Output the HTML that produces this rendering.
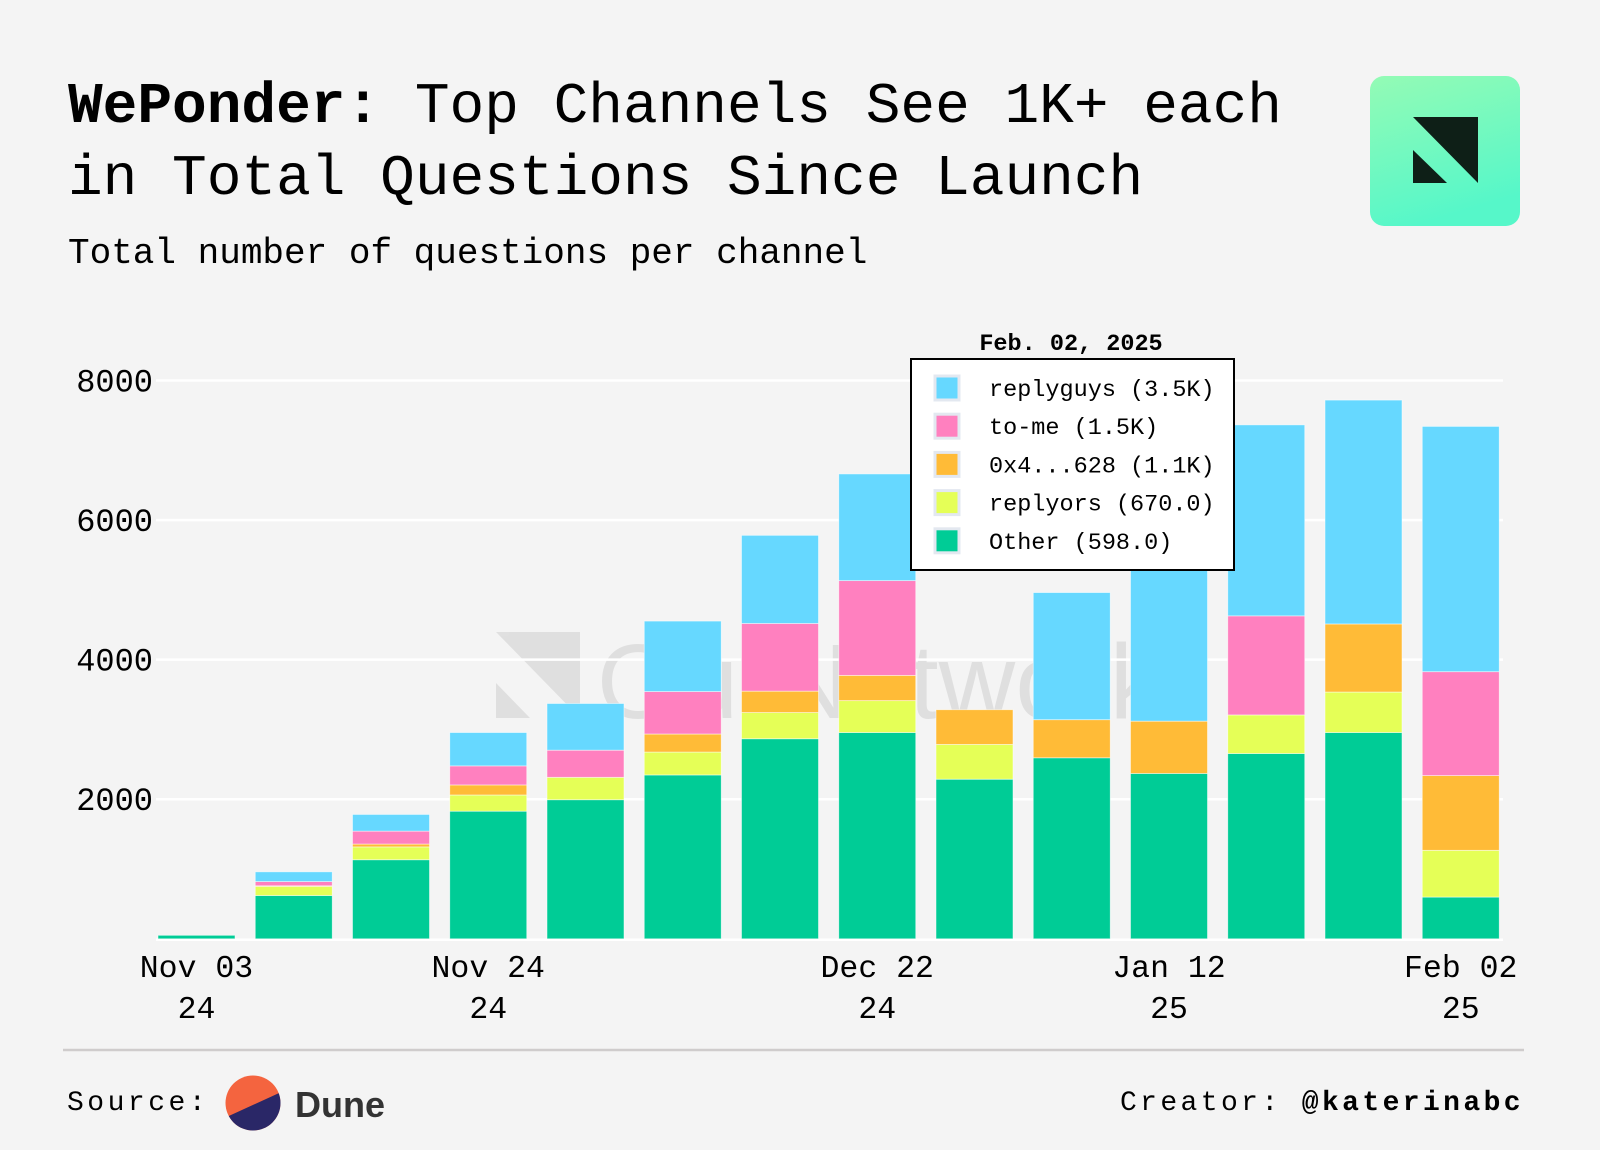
<!DOCTYPE html>
<html><head><meta charset="utf-8"><style>
html,body{margin:0;padding:0;background:#f4f4f4;}
svg{display:block;}
text{font-family:"Liberation Mono","DejaVu Sans Mono",monospace;}
</style></head><body>
<svg id="chart" width="1600" height="1150" viewBox="0 0 1600 1150" xmlns="http://www.w3.org/2000/svg">
<defs><linearGradient id="lg" x1="0" y1="0" x2="0.3" y2="1"><stop offset="0" stop-color="#94fbb5"/><stop offset="1" stop-color="#56f7c9"/></linearGradient></defs>
<rect width="1600" height="1150" fill="#f4f4f4"/>
<text x="68" y="122" font-size="57.8" fill="#000"><tspan font-weight="bold">WePonder:</tspan> Top Channels See 1K+ each</text>
<text x="68" y="194" font-size="57.8" fill="#000">in Total Questions Since Launch</text>
<text x="68" y="263" font-size="36" fill="#000">Total number of questions per channel</text>
<g>
<rect x="1370" y="76" width="150" height="150" rx="14" fill="url(#lg)"/>
<polygon points="1413,117 1478,117 1478,183" fill="#0e1f17"/>
<polygon points="1413,150 1413,183 1447,183" fill="#0e1f17"/>
</g>
<g opacity="0.08">
<polygon points="496,632 580,632 580,718" fill="#000"/>
<polygon points="496,683 496,718 530,718" fill="#000"/>
<text x="597" y="718" font-size="106" fill="#000" style="font-family:'Liberation Sans',sans-serif">OurNetwork</text>
</g>
<g id="grid"></g>
<g id="bars"></g>
<g id="axes"></g>
<g>
<text x="1071" y="350" font-size="23.5" font-weight="bold" text-anchor="middle" fill="#000">Feb. 02, 2025</text>
<rect x="911" y="359" width="323" height="211" fill="#fff" stroke="#000" stroke-width="2"/>
<g id="legend-items"></g>
</g>
<line x1="63" y1="1050" x2="1524" y2="1050" stroke="#cfcccc" stroke-width="2.5"/>
<text x="67" y="1110" font-size="28" letter-spacing="3.5" fill="#000">Source:</text>
<g>
<clipPath id="dc"><circle cx="253" cy="1103" r="27.5"/></clipPath>
<circle cx="253" cy="1103" r="27.5" fill="#f4643f"/>
<polygon points="220,1120 290,1088 290,1140 220,1140" fill="#2a2767" clip-path="url(#dc)"/>
</g>
<text x="295" y="1117" font-size="36" font-weight="bold" fill="#333" style="font-family:'Liberation Sans',sans-serif">Dune</text>
<text x="1524" y="1110" font-size="28" letter-spacing="3.4" text-anchor="end" fill="#000">Creator: <tspan font-weight="bold">@katerinabc</tspan></text>
</svg>
<script>
const categories=["Nov 03","Nov 10","Nov 17","Nov 24","Dec 01","Dec 08","Dec 15","Dec 22","Dec 29","Jan 05","Jan 12","Jan 19","Jan 26","Feb 02"];
const seriesNames=["Other","replyors","0x4...628","to-me","replyguys"];
const otherVals=[50,620,1133,1829,1993,2348,2867,2956,2287,2594,2369,2655,2956,598];
const replyorsVals=[0,130,184,232,321,328,375,457,498,0,0,553,580,670];
const oxVals=[0,10,41,144,0,259,307,362,498,546,750,0,976,1071];
const toMeVals=[0,60,185,273,389,608,970,1358,0,0,0,1420,0,1489];
const replyguysVals=[0,140,239,478,669,1010,1263,1529,0,1822,3781,2737,3208,3515];
const legendLabels=["replyguys (3.5K)","to-me (1.5K)","0x4...628 (1.1K)","replyors (670.0)","Other (598.0)"];
const yTicks=[2000,4000,6000,8000];
const xTickIdx=[0,3,7,10,13];
const xTickLine1=["Nov 03","Nov 24","Dec 22","Jan 12","Feb 02"];
const xTickLine2=["24","24","24","25","25"];

const colors=["#00cc96","#e5ff57","#ffbb37","#ff80bf","#66d8ff"];
const NS="http://www.w3.org/2000/svg";
const X0=158,STEP=97.25,BW=77,BASE=938.8,PX=0.06978;
const y=v=>BASE-v*PX;
const xb=i=>X0+i*STEP;
function mk(tag,attrs,parent){const e=document.createElementNS(NS,tag);for(const k in attrs)e.setAttribute(k,attrs[k]);parent.appendChild(e);return e;}
const grid=document.getElementById('grid'),bars=document.getElementById('bars'),axes=document.getElementById('axes'),li=document.getElementById('legend-items');
yTicks.forEach(t=>{
 const l=mk('line',{x1:156,x2:1503,y1:y(t),y2:y(t),stroke:'#ffffff','stroke-width':2.5},grid);
 
 
 const tx=mk('text',{x:153,y:y(t)+11,'font-size':32,'text-anchor':'end',fill:'#000'},axes);
 tx.textContent=String(t);
 
 
});
const bl=mk('line',{x1:156,x2:1503,y1:BASE+1,y2:BASE+1,stroke:'#ffffff','stroke-width':2.5},grid);


const series=[otherVals,replyorsVals,oxVals,toMeVals,replyguysVals];
categories.forEach((c,i)=>{
 let acc=0;
 series.forEach((s,k)=>{
  const v=s[i]; if(!v) return;
  const r=mk('rect',{x:xb(i),y:y(acc+v),width:BW,height:v*PX,fill:colors[k],stroke:'rgba(255,255,255,0.6)','stroke-width':0.8},bars);
  
  
  acc+=v;
 });
});
xTickIdx.forEach((idx,j)=>{
 const cx=xb(idx)+BW/2;
 const t1=mk('text',{x:cx,y:977,'font-size':31.5,'text-anchor':'middle',fill:'#000'},axes);
 t1.textContent=xTickLine1[j];
 
 
 const t2=mk('text',{x:cx,y:1018,'font-size':31.5,'text-anchor':'middle',fill:'#000'},axes);
 t2.textContent=xTickLine2[j];
 
 
});
legendLabels.forEach((lab,j)=>{
 const cy=388+j*38.2;
 const sw=mk('rect',{x:935,y:cy-12,width:24,height:24,fill:colors[4-j],stroke:'#e3e8f0','stroke-width':3},li);
 
 
 const t=mk('text',{x:989,y:cy+8,'font-size':23.5,fill:'#000'},li);
 t.textContent=lab;
 
 
});
</script>
</body></html>
